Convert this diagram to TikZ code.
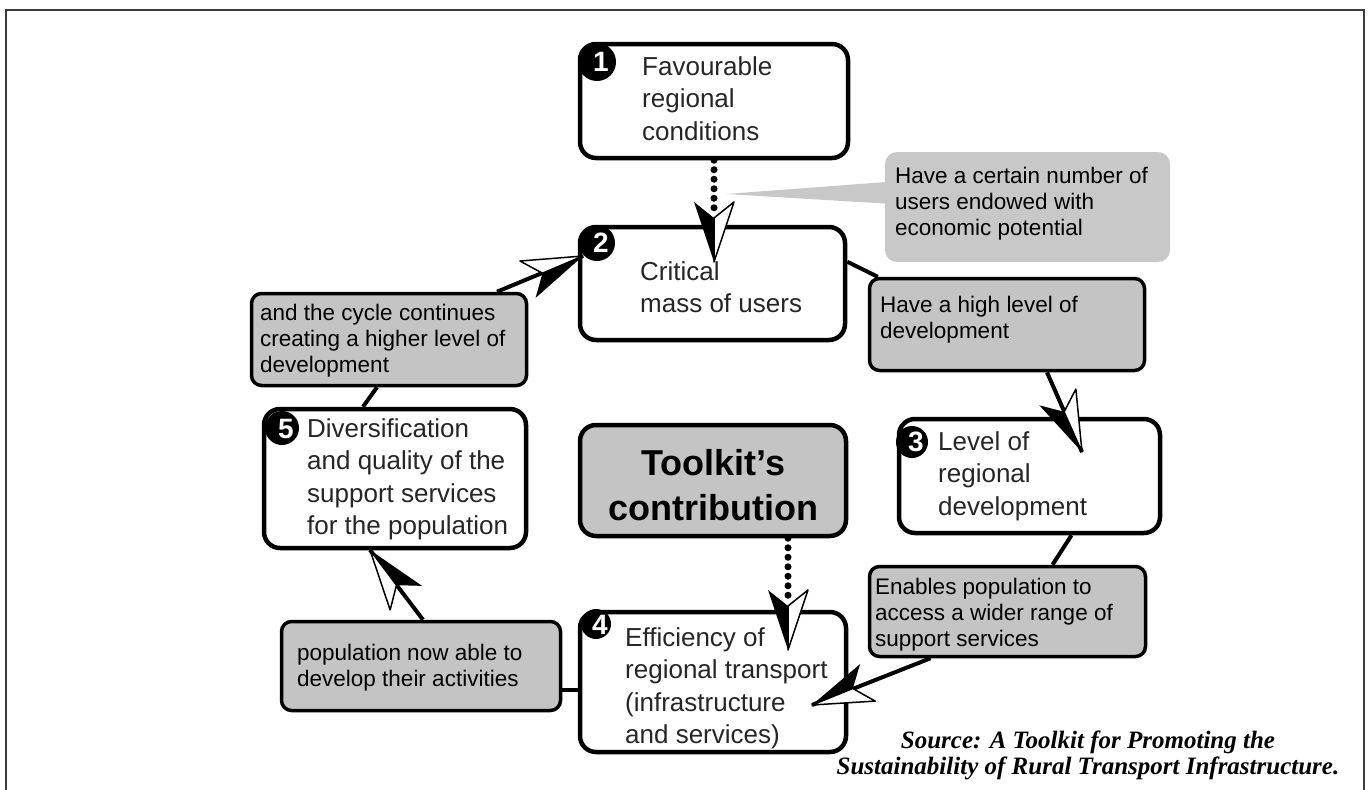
\documentclass[tikz,border=0pt]{standalone}
\usepackage{fontspec}
\setmainfont{Liberation Sans}
\newfontfamily\srcfont{Liberation Serif}
\usetikzlibrary{calc}

\definecolor{boxgray}{RGB}{196,196,196}
\definecolor{callgray}{RGB}{200,200,200}
\definecolor{ink}{RGB}{38,38,38}
\definecolor{framegray}{RGB}{60,60,60}

\tikzset{
  cbox/.style={draw=black, line width=4.5pt, rounded corners=16pt, fill=white, inner sep=0pt},
  gbox/.style={draw=black, line width=3.5pt, rounded corners=10pt, fill=boxgray, inner sep=0pt},
  callbox/.style={fill=callgray, rounded corners=12pt, inner sep=0pt},
  tkbox/.style={draw=black, line width=4.5pt, rounded corners=16pt, fill=boxgray, inner sep=0pt},
  bigtxt/.style={anchor=north west, inner sep=0pt, align=left, text=ink,
                 font=\fontsize{26}{32.5}\selectfont},
  smalltxt/.style={anchor=north west, inner sep=0pt, align=left, text=black,
                 font=\fontsize{22.5}{26}\selectfont},
  conn/.style={draw=black, line width=4pt},
  dotline/.style={draw=black, line width=7pt, line cap=round, dash pattern=on 0pt off 9.5pt},
  badge/.style={circle, fill=black, inner sep=0pt},
  badgenum/.style={text=white, inner sep=0pt, font=\fontsize{28}{28}\selectfont\bfseries},
  chev/.pic={
    \fill[black] (0,0) -- (-60,20) -- (-44,0) -- cycle;
    \filldraw[fill=white, draw=black, line width=1.5pt, line join=round] (0,0) -- (-60,-20) -- (-44,0) -- cycle;
  }
}

\begin{document}
\begin{tikzpicture}[x=1pt, y=-1pt]
\useasboundingbox (0,0) rectangle (1369,790);

% outer frame (open at the bottom)
\draw[framegray, line width=2pt] (6,790) -- (6,10) -- (1364,10) -- (1364,790);

% ---- boxes ----
\node[callbox, minimum width=285pt, minimum height=110pt] (call) at (1027.5,207) {};
\coordinate (callTip) at (726,194);
\fill[callgray] (callTip) -- ($(call.north west)+(4,30)$) -- ($(call.north west)+(4,52)$) -- cycle;

\node[cbox, minimum width=268pt, minimum height=114pt] (b1) at (714,101) {};
\node[cbox, minimum width=265pt, minimum height=113pt] (b2) at (712.5,283.5) {};
\node[cbox, minimum width=261pt, minimum height=114pt] (b3) at (1029.5,476) {};
\node[cbox, minimum width=266pt, minimum height=140pt] (b4) at (713,682) {};
\node[cbox, minimum width=262pt, minimum height=139pt] (b5) at (395,478.5) {};
\node[tkbox, minimum width=266pt, minimum height=111pt] (tk) at (713,480.5) {};

\node[gbox, minimum width=275pt, minimum height=92pt] (high) at (1007,324.5) {};
\node[gbox, minimum width=276pt, minimum height=90pt] (enab) at (1007.5,611.5) {};
\node[gbox, minimum width=275pt, minimum height=92pt] (cyc) at (389,339.5) {};
\node[gbox, minimum width=279pt, minimum height=89pt] (pop) at (421,666) {};

% ---- connectors ----
\coordinate (tip2) at (714,262);
\draw[dotline] (b1.south) -- ($(tip2)+(0,-50)$);
\pic[rotate=-90] at (tip2) {chev};

\draw[conn] ($(b2.north east)+(0,37)$) -- ($(high.north west)+(10,0)$);

\coordinate (tip3) at (1082,452);
\draw[conn] ($(high.south)+(40,0)$) -- (tip3);
\pic[rotate=-66] at (tip3) {chev};

\draw[conn] ($(b3.south)+(42,0)$) -- ($(enab.north)+(45,0)$);

\coordinate (tip4) at (812,705);
\draw[conn] ($(enab.south)+(-77,0)$) -- (tip4);
\pic[rotate=-158] at (tip4) {chev};

\coordinate (tip4b) at (788,650);
\draw[dotline] (tk.south -| tip4b) -- ($(tip4b)+(0,-50)$);
\pic[rotate=-90] at (tip4b) {chev};

\draw[conn] (b4.west |- 0,690) -- (pop.east |- 0,690);

\coordinate (tip5) at (370,550);
\draw[conn] ($(pop.north)+(2,0)$) -- (tip5);
\pic[rotate=127] at (tip5) {chev};

\draw[conn] ($(b5.north)+(-32,0)$) -- ($(cyc.south)+(-12,0)$);

\coordinate (tip2b) at (583,256);
\draw[conn] ($(cyc.north)+(108,0)$) -- (tip2b);
\pic[rotate=23] at (tip2b) {chev};

% ---- badges ----
\node[badge, minimum size=38pt] (n1) at (597,62) {};
\node[badgenum] (n1t) at (601,62) {1};
\node[badge, minimum size=36pt] (n2) at (597,243) {};
\node[badgenum] (n2t) at (601,243) {2};
\node[badge, minimum size=32pt] (n3) at (912,442) {};
\node[badgenum] (n3t) at (916,442) {3};
\node[badge, minimum size=30pt] (n4) at (596,624) {};
\node[badgenum] (n4t) at (600,625) {4};
\node[badge, minimum size=34pt] (n5) at (282,428) {};
\node[badgenum] (n5t) at (286,429) {5};

% ---- texts ----
\node[bigtxt] (t1) at (642,56) {Favourable\\regional\\conditions};
\node[bigtxt] (t2) at (640,261) {Critical\\mass of users};
\node[bigtxt] (t3) at (938,431) {Level of\\regional\\development};
\node[bigtxt] (t4) at (625,627) {Efficiency of\\regional transport\\(infrastructure\\and services)};
\node[bigtxt] (t5) at (307,418) {Diversification\\and quality of the\\support services\\for the population};

\node[smalltxt] (tc) at (895,167) {Have a certain number of\\users endowed with\\economic potential};
\node[smalltxt] (th) at (880,296) {Have a high level of\\development};
\node[smalltxt] (te) at (875,578) {Enables population to\\access a wider range of\\support services};
\node[smalltxt] (ty) at (260,304) {and the cycle continues\\creating a higher level of\\development};
\node[smalltxt] (tp) at (297,644) {population now able to\\develop their activities};

\node[anchor=north, inner sep=0pt, align=center, text=black,
      font=\fontsize{36}{45}\selectfont\bfseries] (ttk) at (713,449) {Toolkit's\\contribution};

\node[anchor=north, inner sep=0pt, align=center, text=black,
      font=\srcfont\bfseries\itshape\fontsize{25}{26}\selectfont] (src) at (1088,731)
      {Source: A Toolkit for Promoting the\\Sustainability of Rural Transport Infrastructure.};
\end{tikzpicture}
\end{document}
